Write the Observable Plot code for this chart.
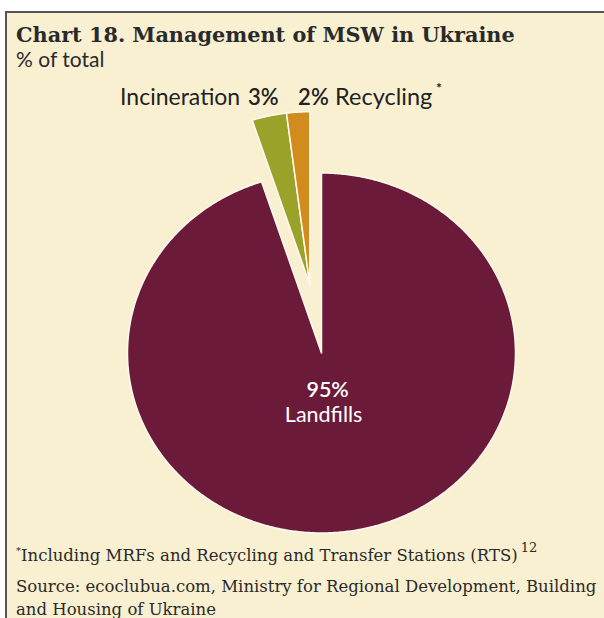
<!DOCTYPE html>
<html><head><meta charset="utf-8">
<script src="https://cdn.jsdelivr.net/npm/d3@7"></script>
<script src="https://cdn.jsdelivr.net/npm/@observablehq/plot@0.6"></script>
<style>
html,body{margin:0;padding:0;background:#fff;}
#frame{position:absolute;left:5px;top:11px;width:599px;height:607px;background:#f9f0d1;border-top:2px solid #555;border-left:2px solid #555;overflow:hidden;}
#title{position:absolute;left:9px;top:10px;font:bold 20.8px/24px "DejaVu Serif";color:#2a2a2a;white-space:nowrap;}
#subtitle{position:absolute;left:9px;top:35px;font:21px/22.8px Lato;color:#2a2a2a;white-space:nowrap;}
#chart{position:absolute;left:0;top:59px;}
.foot{position:absolute;left:9px;font:16.5px/18px "DejaVu Serif";color:#2a2a2a;white-space:nowrap;}
.foot sup{font-size:10px;line-height:0;vertical-align:7px;}
.foot sup.n{font-size:13px;vertical-align:9px;margin-left:3px;}
</style></head>
<body>
<div id="frame">
  <div id="title">Chart 18. Management of MSW in Ukraine</div>
  <div id="subtitle">% of total</div>
  <div id="chart"></div>
  <div class="foot" style="top:533.6px"><sup>*</sup>Including MRFs and Recycling and Transfer Stations (RTS)<sup class="n">12</sup></div>
  <div class="foot" style="top:564.6px">Source: ecoclubua.com, Ministry for Regional Development, Building</div>
  <div class="foot" style="top:587.6px">and Housing of Ukraine</div>
</div>
<script>
const categories = ["Landfills", "Incineration", "Recycling"];
const shares = [95, 3, 2];
const shareLabels = ["95%", "3%", "2%"];

const palette = ["#6c1a3a", "#9aa22a", "#d18c1d"];

const W = 597, H = 470;
const CX = 314, CY = 280.5, RX = 194, RY = 180;
const EXPLODE = 0.385, SMALL_R = 0.96;

const rows = categories.map((c, i) => ({category: c, share: shares[i], label: shareLabels[i]}));
const arcs = d3.pie().sort(null).value(d => d.share)(rows);
const groupMid = (arcs[1].startAngle + arcs[arcs.length - 1].endAngle) / 2;

const pts = [];
const geo = arcs.map((a, i) => {
  const exploded = i > 0;
  const ox = exploded ? EXPLODE * Math.sin(groupMid) : 0;
  const oy = exploded ? EXPLODE * Math.cos(groupMid) : 0;
  const r = exploded ? SMALL_R : 1;
  const n = Math.max(2, Math.ceil((a.endAngle - a.startAngle) / (Math.PI / 360)));
  const ring = [[ox, oy]];
  for (let k = 0; k <= n; k++) {
    const t = a.startAngle + (a.endAngle - a.startAngle) * k / n;
    ring.push([ox + r * Math.sin(t), oy + r * Math.cos(t)]);
  }
  ring.push([ox, oy]);
  ring.forEach(([x, y], j) => pts.push({category: a.data.category, x, y, j}));
  const mid = (a.startAngle + a.endAngle) / 2;
  return {category: a.data.category, label: a.data.label, ox, oy, r, mid};
});

// labels of the exploded slices: above their outer edge
const small = geo.slice(1).map(g => ({...g, x: g.ox + g.r * Math.sin(g.mid), y: g.oy + g.r * Math.cos(g.mid)}));
const topY = d3.max(small, d => d.y);
small.forEach(d => d.y = topY);
const incin = small[0], recyc = small[1];
const land = geo[0];
const landLabel = [{x: 0.3 * Math.sin(land.mid), y: 0.3 * Math.cos(land.mid), label: land.label, category: land.category}];

const labelFont = "Lato";
const ink = "#222";
const chart = Plot.plot({
  width: W, height: H, margin: 0,
  style: {background: "transparent", overflow: "visible"},
  x: {domain: [-CX / RX, (W - CX) / RX], axis: null},
  y: {domain: [-(H - CY) / RY, CY / RY], axis: null},
  color: {domain: categories, range: palette},
  marks: [
    Plot.line(pts, {x: "x", y: "y", z: "category", fill: "category", stroke: "#fffaf0", strokeWidth: 1.5, strokeLinejoin: "round"}),
    Plot.text([incin], {x: "x", y: "y", text: "label", textAnchor: "middle", lineAnchor: "bottom", dx: -6, dy: -7.5, fontSize: 22, fontWeight: 600, fontFamily: labelFont, fill: ink}),
    Plot.text([incin], {x: "x", y: "y", text: "category", textAnchor: "end", lineAnchor: "bottom", dx: -29, dy: -7.5, fontSize: 23, fontFamily: labelFont, fill: ink}),
    Plot.text([recyc], {x: "x", y: "y", text: "label", textAnchor: "start", lineAnchor: "bottom", dx: 0, dy: -7.5, fontSize: 22, fontWeight: 600, fontFamily: labelFont, fill: ink}),
    Plot.text([recyc], {x: "x", y: "y", text: "category", textAnchor: "start", lineAnchor: "bottom", dx: 37, dy: -7.5, fontSize: 23.5, fontFamily: labelFont, fill: ink}),
    Plot.text([recyc], {x: "x", y: "y", text: () => "*", textAnchor: "start", lineAnchor: "bottom", dx: 138, dy: -19, fontSize: 14, fontWeight: 700, fontFamily: labelFont, fill: ink}),
    Plot.text(landLabel, {x: "x", y: "y", text: "label", textAnchor: "middle", lineAnchor: "bottom", dx: -3, dy: -9, fontSize: 21.5, fontWeight: 600, fontFamily: labelFont, fill: "#fff"}),
    Plot.text(landLabel, {x: "x", y: "y", text: "category", textAnchor: "middle", lineAnchor: "bottom", dx: -7, dy: 16, fontSize: 21.5, fontFamily: labelFont, fill: "#fff"})
  ]
});
document.getElementById("chart").append(chart);
</script>
</body></html>
